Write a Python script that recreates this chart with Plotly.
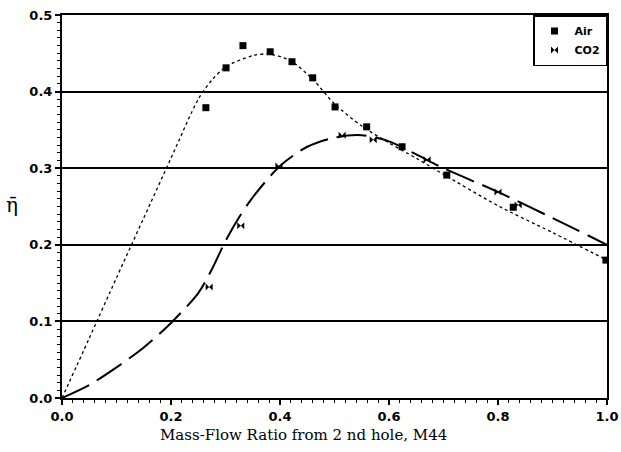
import plotly.graph_objects as go

# measured points
air_x = [0.264, 0.301, 0.332, 0.382, 0.422, 0.460, 0.501, 0.559, 0.624, 0.706, 0.828, 0.998]
air_y = [0.379, 0.431, 0.460, 0.452, 0.439, 0.418, 0.380, 0.354, 0.328, 0.291, 0.249, 0.180]

co2_x = [0.270, 0.328, 0.398, 0.514, 0.571, 0.670, 0.800, 0.837]
co2_y = [0.145, 0.225, 0.303, 0.343, 0.337, 0.311, 0.269, 0.252]

# fitted curves
air_fit_x = [0, 0.05, 0.1, 0.15, 0.2, 0.25, 0.275, 0.3, 0.35, 0.38, 0.42, 0.46, 0.5, 0.55, 0.6, 0.65, 0.7, 0.8, 0.9, 1.0]
air_fit_y = [0, 0.078, 0.157, 0.235, 0.313, 0.390, 0.415, 0.432, 0.447, 0.449, 0.440, 0.416, 0.384, 0.355, 0.333, 0.313, 0.292, 0.251, 0.216, 0.180]

co2_fit_x = [0, 0.05, 0.1, 0.15, 0.2, 0.25, 0.275, 0.3, 0.325, 0.35, 0.4, 0.45, 0.5, 0.55, 0.6, 0.65, 0.7, 0.8, 0.9, 1.0]
co2_fit_y = [0, 0.017, 0.040, 0.066, 0.098, 0.137, 0.168, 0.205, 0.236, 0.262, 0.303, 0.328, 0.340, 0.343, 0.335, 0.318, 0.300, 0.269, 0.235, 0.200]

x_ticks = [0.0, 0.2, 0.4, 0.6, 0.8, 1.0]
y_ticks = [0.0, 0.1, 0.2, 0.3, 0.4, 0.5]

fig = go.Figure()
fig.add_trace(go.Scatter(x=air_fit_x, y=air_fit_y, mode="lines", line_shape="spline",
                         line=dict(color="black", width=1.3, dash="dot", smoothing=0.8),
                         showlegend=False, hoverinfo="skip"))
fig.add_trace(go.Scatter(x=co2_fit_x, y=co2_fit_y, mode="lines", line_shape="spline",
                         line=dict(color="black", width=2, dash="30px,9px", smoothing=0.8),
                         showlegend=False, hoverinfo="skip"))
fig.add_trace(go.Scatter(x=air_x, y=air_y, mode="markers", name="Air",
                         marker=dict(symbol="square", size=7, color="black")))
fig.add_trace(go.Scatter(x=co2_x, y=co2_y, mode="markers", name="CO2",
                         marker=dict(symbol="bowtie", size=7, color="black")))

tickfont = dict(family="DejaVu Sans", size=13, color="black", weight="bold")
fig.update_xaxes(range=[0, 1], tickvals=x_ticks, ticktext=[f"{v:.1f}" for v in x_ticks],
                 showline=True, linecolor="black", linewidth=2, mirror=True,
                 ticks="outside", ticklen=5, tickwidth=1.5, tickcolor="black",
                 minor=dict(dtick=0.02, ticks="outside", ticklen=3, tickcolor="black", tickwidth=1),
                 showgrid=False, zeroline=False, tickfont=tickfont, automargin=False)
fig.update_yaxes(range=[0, 0.5], tickvals=y_ticks, ticktext=[f"{v:.1f}" for v in y_ticks],
                 showline=True, linecolor="black", linewidth=2, mirror=True,
                 ticks="outside", ticklen=5, tickwidth=1.5, tickcolor="black",
                 minor=dict(dtick=0.01, ticks="outside", ticklen=3, tickcolor="black", tickwidth=1),
                 showgrid=True, gridcolor="black", gridwidth=1.6, zeroline=False, tickfont=tickfont,
                 automargin=False)
fig.add_annotation(text="Mass-Flow Ratio from 2 nd hole, M44", xref="paper", yref="paper",
                   x=0.444, y=-0.0966, xanchor="center", yanchor="middle", showarrow=False,
                   font=dict(family="DejaVu Serif", size=15, color="black"))
fig.add_annotation(text="η\u0304", xref="paper", yref="paper",
                   x=-0.0917, y=0.504, xanchor="center", yanchor="middle", showarrow=False,
                   font=dict(family="DejaVu Serif", size=20, color="black"))
fig.update_layout(
    width=621, height=452,
    margin=dict(l=62, r=14, t=15, b=54),
    paper_bgcolor="white", plot_bgcolor="white",
    legend=dict(x=1, y=1, xanchor="right", yanchor="top", bgcolor="white",
                bordercolor="black", borderwidth=1.5,
                font=dict(family="DejaVu Sans", size=11, color="black", weight="bold"),
                itemwidth=30, tracegroupgap=4),
)
fig.write_html("out.html")
